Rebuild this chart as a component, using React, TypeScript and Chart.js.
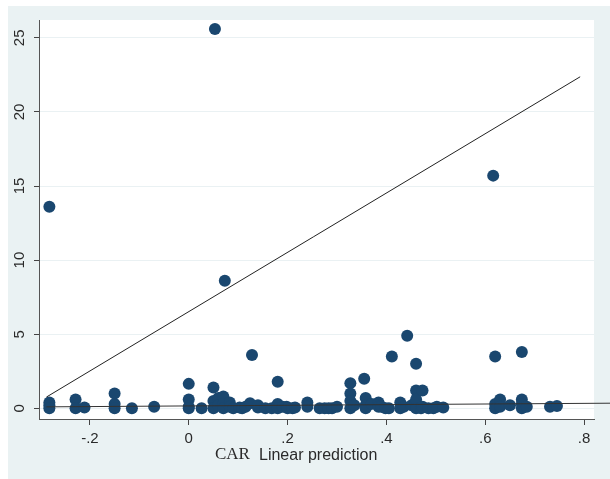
import React, { useEffect, useRef } from "react";
import { Chart, registerables } from "chart.js";

Chart.register(...registerables);

// CAR observations (x = linear prediction, y = CAR)
const xVals: number[] = [
  -0.282, -0.282, -0.282, -0.282,
  -0.229, -0.229, -0.211,
  -0.15, -0.15, -0.15, -0.115, -0.07,
  0.0, 0.0, 0.0, 0.0, 0.026,
  0.05, 0.05, 0.05, 0.053, 0.06, 0.06,
  0.07, 0.07, 0.07, 0.073, 0.083, 0.083, 0.09,
  0.103, 0.108, 0.115, 0.124, 0.128, 0.14, 0.14, 0.155, 0.168,
  0.18, 0.18, 0.18, 0.19, 0.198, 0.2, 0.21, 0.215,
  0.24, 0.24, 0.265, 0.275, 0.283, 0.29, 0.3,
  0.327, 0.327, 0.327, 0.327, 0.335,
  0.355, 0.358, 0.358, 0.358, 0.37, 0.384, 0.384, 0.39, 0.398, 0.405,
  0.411, 0.428, 0.428, 0.435, 0.442, 0.451,
  0.46, 0.46, 0.46, 0.46, 0.47, 0.473, 0.473, 0.485, 0.495, 0.502, 0.515,
  0.616, 0.62, 0.62, 0.62, 0.63, 0.63, 0.65,
  0.674, 0.674, 0.674, 0.674, 0.684, 0.731, 0.745,
];
const yVals: number[] = [
  13.6, 0.4, 0.2, 0.0,
  0.6, 0.0, 0.05,
  1.0, 0.3, 0.0, 0.0, 0.1,
  1.65, 0.6, 0.1, 0.0, 0.0,
  1.4, 0.5, 0.0, 25.6, 0.7, 0.2,
  0.8, 0.3, 0.0, 8.6, 0.4, 0.1, 0.0,
  0.05, 0.0, 0.1, 0.35, 3.6, 0.05, 0.2, 0.0, 0.0,
  1.8, 0.3, 0.0, 0.1, 0.1, 0.0, 0.0, 0.05,
  0.4, 0.1, 0.0, 0.0, 0.0, 0.0, 0.1,
  1.7, 1.0, 0.5, 0.0, 0.2,
  2.0, 0.7, 0.2, 0.0, 0.3, 0.4, 0.1, 0.1, 0.0, 0.0,
  3.5, 0.4, 0.0, 0.1, 4.9, 0.2,
  3.0, 1.2, 0.6, 0.0, 0.0, 1.2, 0.1, 0.0, 0.0, 0.1, 0.05,
  15.7, 3.5, 0.3, 0.0, 0.6, 0.1, 0.2,
  3.8, 0.6, 0.3, 0.0, 0.1, 0.1, 0.15,
];

// Fitted lines (end points)
const fitSteepX: number[] = [-0.288, 0.792];
const fitSteepY: number[] = [0.76, 22.37];
const fitFlatX: number[] = [-0.288, 0.87];
const fitFlatY: number[] = [0.1, 0.35];

const xTicks: number[] = [-0.2, 0, 0.2, 0.4, 0.6, 0.8];
const yTicks: number[] = [0, 5, 10, 15, 20, 25];

const fmtX = (v: number) => {
  if (Math.abs(v) < 1e-9) return "0";
  const s = (Math.round(v * 10) / 10).toString();
  return s.replace(/^(-?)0\./, "$1.");
};

export default function App() {
  const ref = useRef<HTMLCanvasElement | null>(null);

  useEffect(() => {
    if (!ref.current) return;
    const pts = xVals.map((x, i) => ({ x, y: yVals[i] }));
    const steep = fitSteepX.map((x, i) => ({ x, y: fitSteepY[i] }));
    const flat = fitFlatX.map((x, i) => ({ x, y: fitFlatY[i] }));

    const bgPlugin = {
      id: "plotBg",
      beforeDraw(chart: any) {
        const { ctx, chartArea } = chart;
        ctx.save();
        ctx.fillStyle = "#ffffff";
        ctx.fillRect(chartArea.left, chartArea.top, chartArea.right - chartArea.left, chartArea.bottom - chartArea.top);
        ctx.restore();
      },
      afterDraw(chart: any) {
        const { ctx, chartArea, scales } = chart;
        ctx.save();
        // rotated y tick labels
        ctx.fillStyle = "#2a2a2a";
        ctx.font = "15px 'Liberation Sans', Arial, sans-serif";
        ctx.textAlign = "center";
        ctx.textBaseline = "middle";
        yTicks.forEach((v) => {
          const py = scales.y.getPixelForValue(v);
          ctx.save();
          ctx.translate(chartArea.left - 19, py);
          ctx.rotate(-Math.PI / 2);
          ctx.fillText(String(v), 0, 0);
          ctx.restore();
        });
        // x-axis title: legend-like "CAR  Linear prediction"
        ctx.textAlign = "left";
        ctx.textBaseline = "middle";
        ctx.font = "17px 'Liberation Serif', 'Times New Roman', serif";
        ctx.fillText("CAR", 207, 449);
        ctx.font = "16px 'Liberation Sans', Arial, sans-serif";
        ctx.fillText("Linear prediction", 251, 450);
        ctx.restore();
      },
    };

    const chart = new Chart(ref.current, {
      type: "scatter",
      data: {
        datasets: [
          {
            type: "line",
            data: steep,
            borderColor: "#222222",
            borderWidth: 1,
            pointRadius: 0,
            fill: false,
            order: 0,
          } as any,
          {
            type: "line",
            data: flat,
            borderColor: "#333333",
            borderWidth: 1,
            pointRadius: 0,
            fill: false,
            clip: false,
            order: 1,
          } as any,
          {
            type: "scatter",
            data: pts,
            backgroundColor: "#1A476F",
            borderWidth: 0,
            pointRadius: 6,
            order: 2,
          },
        ],
      },
      options: {
        animation: false,
        responsive: true,
        maintainAspectRatio: false,
        layout: { padding: { left: 0, top: 14, right: 16, bottom: 0 } },
        plugins: { legend: { display: false }, tooltip: { enabled: false } },
        scales: {
          x: {
            type: "linear",
            min: -0.303,
            max: 0.82,
            afterBuildTicks: (s: any) => {
              s.ticks = xTicks.map((v) => ({ value: v }));
            },
            afterFit: (s: any) => {
              s.height = 60;
            },
            grid: { drawOnChartArea: false, tickColor: "#444444", tickLength: 6, tickWidth: 1 },
            border: { color: "#555555", width: 1 },
            ticks: {
              color: "#2a2a2a",
              font: { family: "'Liberation Sans', Arial, sans-serif", size: 15 },
              padding: 5,
              maxRotation: 0,
              minRotation: 0,
              autoSkip: false,
              callback: (v: any) => fmtX(Number(v)),
            },
          },
          y: {
            type: "linear",
            min: -0.72,
            max: 26.2,
            afterBuildTicks: (s: any) => {
              s.ticks = yTicks.map((v) => ({ value: v }));
            },
            afterFit: (s: any) => {
              s.width = 31;
            },
            grid: { color: "#EAF1F3", lineWidth: 1, tickColor: "#444444", tickLength: 5, tickWidth: 1 },
            border: { color: "#555555", width: 1 },
            ticks: { display: false },
          },
        },
      },
      plugins: [bgPlugin],
    });
    return () => chart.destroy();
  }, []);

  return (
    <div
      style={{
        position: "absolute",
        left: 8,
        top: 6,
        width: 602,
        height: 473,
        background: "#EAF2F3",
      }}
    >
      <canvas ref={ref} />
    </div>
  );
}
